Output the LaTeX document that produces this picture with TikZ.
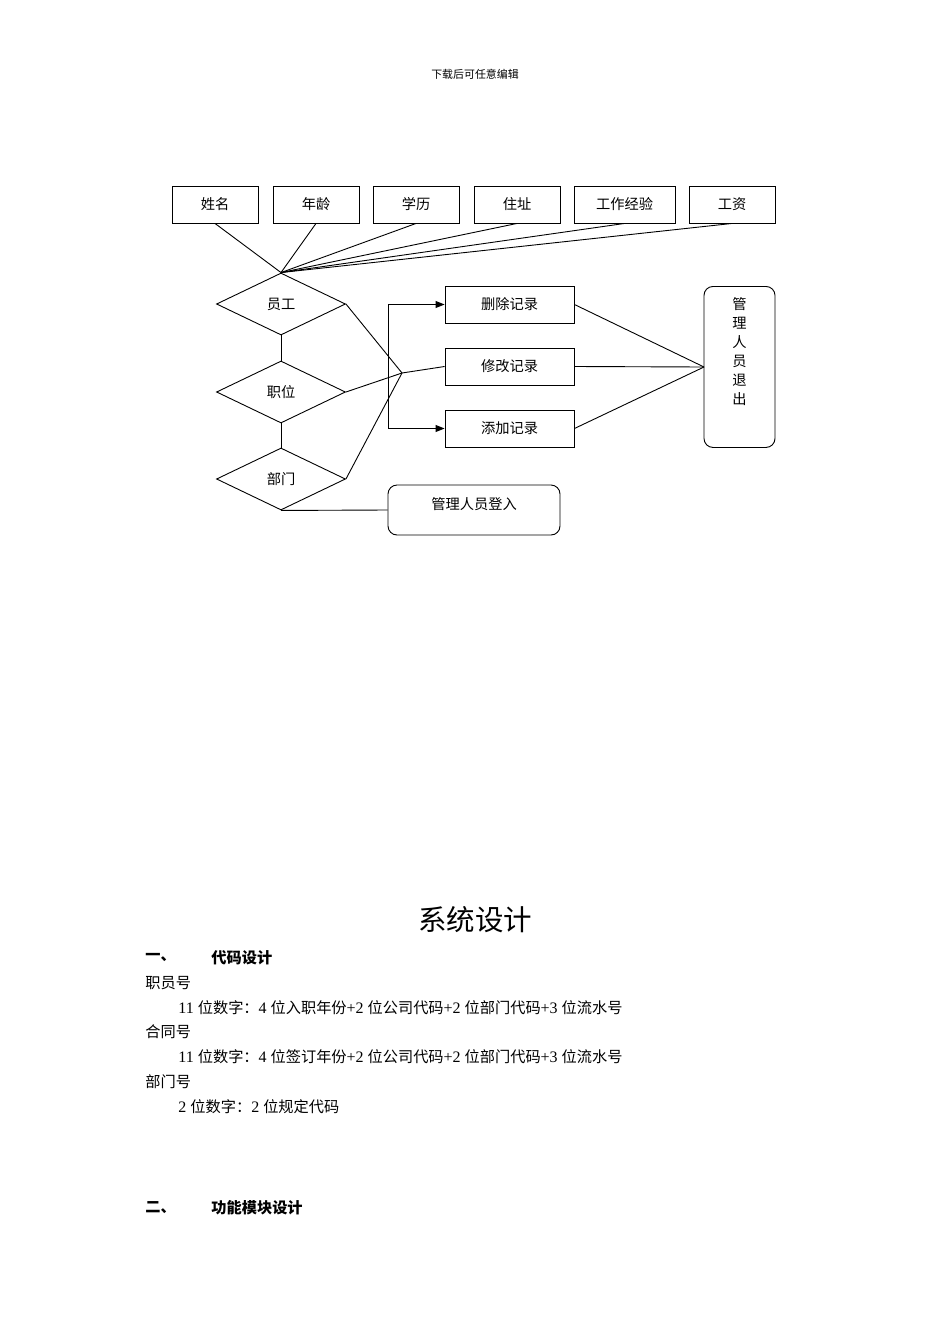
\documentclass[tikz,border=0pt]{standalone}
\usepackage{fontspec}
\setmainfont{Liberation Serif}
\newfontfamily\cjk{Noto Sans CJK SC}[Scale=0.95]
\usetikzlibrary{shapes.geometric,arrows.meta}
\begin{document}
\begin{tikzpicture}[x=1pt,y=-1pt,line width=0.9pt,
  bx/.style={draw,rectangle,minimum height=37pt,inner sep=0pt,font=\cjk\fontsize{15}{15}\selectfont},
  dm/.style={draw,diamond,aspect=2.05,minimum width=129pt,minimum height=62pt,inner sep=0pt,font=\cjk\fontsize{15}{15}\selectfont},
  tx/.style={anchor=west,inner sep=0pt,font=\fontsize{16}{16}\selectfont},
  ar/.style={-{Triangle[length=9pt,width=7pt]}}]
\useasboundingbox (0,0) rectangle (950,1344);
\node[font=\cjk\fontsize{11.5}{12}\selectfont] (hdr) at (475,74) {下载后可任意编辑};
% top boxes
\node[bx,minimum width=86pt] (a1) at (215,204.5) {姓名};
\node[bx,minimum width=86pt] (a2) at (316,204.5) {年龄};
\node[bx,minimum width=86pt] (a3) at (416,204.5) {学历};
\node[bx,minimum width=86pt] (a4) at (517,204.5) {住址};
\node[bx,minimum width=101pt] (a5) at (624.5,204.5) {工作经验};
\node[bx,minimum width=86pt] (a6) at (732,204.5) {工资};
% diamonds
\node[dm] (d1) at (281,304) {员工};
\node[dm] (d2) at (281,392) {职位};
\node[dm] (d3) at (281,479) {部门};
\foreach \a in {a1,a2,a3,a4,a5,a6} \draw (\a.south) -- (d1.north);
\draw (d1.south) -- (d2.north);
\draw (d2.south) -- (d3.north);
% middle boxes
\node[bx,minimum width=129pt] (b1) at (509.5,304.5) {删除记录};
\node[bx,minimum width=129pt] (b2) at (509.5,366.5) {修改记录};
\node[bx,minimum width=129pt] (b3) at (509.5,428.5) {添加记录};
\coordinate (hub) at (402,373);
\coordinate (v) at (388,373);
\draw (d1.east) -- (hub);
\draw (d2.east) -- (hub);
\draw (d3.east) -- (hub);
\draw (hub) -- (b2.west);
\draw[ar] (v) |- (b1.west);
\draw[ar] (v) |- (b3.west);
% exit box
\node[draw,rounded corners=9pt,minimum width=71pt,minimum height=161pt,inner sep=0pt,font=\cjk\fontsize{15}{19}\selectfont,align=center,anchor=north] (q) at (739.5,286) {};
\node[font=\cjk\fontsize{15}{19}\selectfont,align=center,anchor=north] (qt) at (739.5,294) {管\\理\\人\\员\\退\\出};
\coordinate (qp) at (704,367);
\draw (b1.east) -- (qp);
\draw (b2.east) -- (qp);
\draw (b3.east) -- (qp);
% login
\node[draw,rounded corners=9pt,minimum width=172pt,minimum height=50pt,inner sep=0pt,font=\cjk\fontsize{15}{15}\selectfont] (login) at (474,510) {};
\node[font=\cjk\fontsize{15}{15}\selectfont] (lt) at (474,504) {管理人员登入};
\draw (d3.south) -- (login.west);
% text
\node[font=\cjk\fontsize{30}{30}\selectfont] (title) at (475,920) {系统设计};
\node[tx,font=\cjk\bfseries\fontsize{16}{16}\selectfont] (s1) at (145,958) {一、};
\node[tx,font=\cjk\bfseries\fontsize{16}{16}\selectfont] (s1t) at (211,958) {代码设计};
\node[tx] (l1) at (145,983) {\cjk 职员号};
\node[tx] (l2) at (178,1008) {11 {\cjk 位数字：}4 {\cjk 位入职年份}+2 {\cjk 位公司代码}+2 {\cjk 位部门代码}+3 {\cjk 位流水号}};
\node[tx] (l3) at (145,1032) {\cjk 合同号};
\node[tx] (l4) at (178,1057) {11 {\cjk 位数字：}4 {\cjk 位签订年份}+2 {\cjk 位公司代码}+2 {\cjk 位部门代码}+3 {\cjk 位流水号}};
\node[tx] (l5) at (145,1082) {\cjk 部门号};
\node[tx] (l6) at (178,1107) {2 {\cjk 位数字：}2 {\cjk 位规定代码}};
\node[tx,font=\cjk\bfseries\fontsize{16}{16}\selectfont] (s2) at (145,1208) {二、};
\node[tx,font=\cjk\bfseries\fontsize{16}{16}\selectfont] (s2t) at (211,1208) {功能模块设计};
\end{tikzpicture}
\end{document}
